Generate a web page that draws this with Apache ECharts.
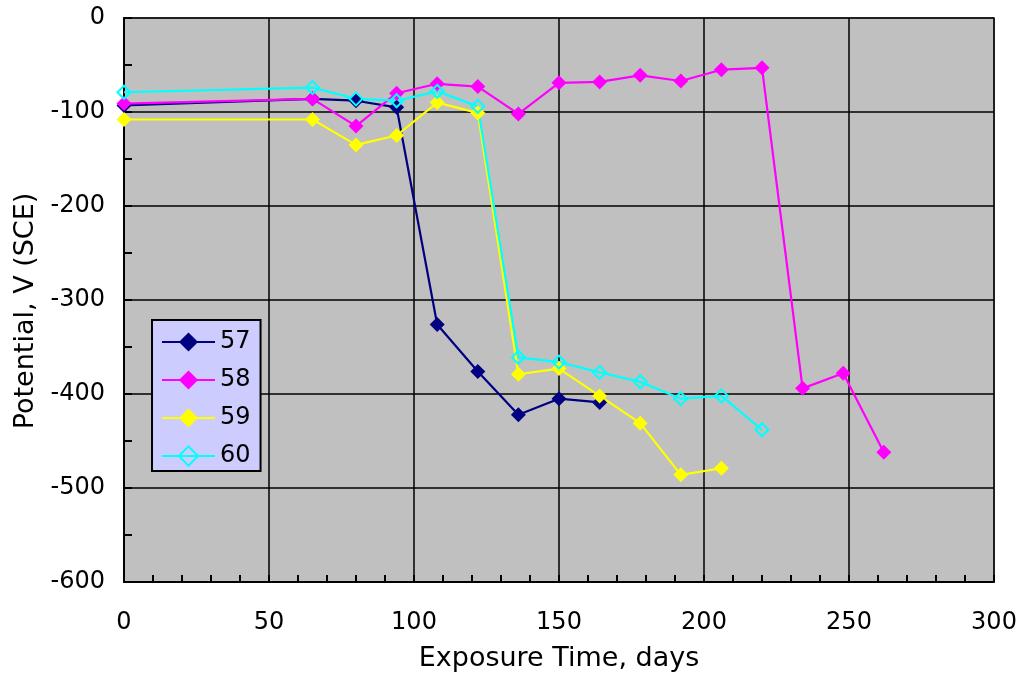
<!DOCTYPE html>
<html>
<head>
<meta charset="utf-8">
<script src="https://cdn.jsdelivr.net/npm/echarts@6/dist/echarts.min.js"></script>
<style>
  html, body { margin: 0; padding: 0; background: #fff; }
  #chart { width: 1023px; height: 677px; }
</style>
</head>
<body>
<div id="chart"></div>
<script>
// Exposure time (days) for each reading
const days57 = [0, 65, 80, 94, 108, 122, 136, 150, 164];
const days58 = [0, 65, 80, 94, 108, 122, 136, 150, 164, 178, 192, 206, 220, 234, 248, 262];
const days59 = [0, 65, 80, 94, 108, 122, 136, 150, 164, 178, 192, 206];
const days60 = [0, 65, 80, 94, 108, 122, 136, 150, 164, 178, 192, 206, 220];

// Potential readings, V (SCE)
const pot57 = [-93, -86, -88, -95, -326, -376, -422, -405, -409];
const pot58 = [-91, -86, -115, -80, -70, -73, -102, -69, -68, -61, -67, -55, -53, -394, -378, -462];
const pot59 = [-108, -108, -135, -125, -90, -101, -379, -373, -402, -431, -486, -479];
const pot60 = [-79, -74, -86, -88, -78, -94, -361, -366, -377, -387, -405, -402, -438];

const seriesNames = ['57', '58', '59', '60'];
const xTicks = [0, 50, 100, 150, 200, 250, 300];
const yTicks = [0, -100, -200, -300, -400, -500, -600];

const FONT = 'DejaVu Sans';

function pairs(xs, ys) {
  return xs.map((x, i) => [x, ys[i]]);
}

function lineSeries(name, xs, ys, color, hollow) {
  return {
    name: name,
    type: 'line',
    data: pairs(xs, ys),
    symbol: 'diamond',
    symbolSize: hollow ? 13 : 15,
    showSymbol: true,
    animation: false,
    lineStyle: { color: color, width: 2.2 },
    itemStyle: hollow
      ? { color: 'rgba(0,0,0,0)', borderColor: color, borderWidth: 2 }
      : { color: color, borderWidth: 0 },
    emphasis: { disabled: true }
  };
}

const chart = echarts.init(document.getElementById('chart'), null, { renderer: 'canvas' });

chart.setOption({
  animation: false,
  backgroundColor: '#ffffff',
  textStyle: { fontFamily: FONT },
  grid: {
    left: 124, right: 29, top: 18, bottom: 95,
    outerBoundsMode: 'none',
    containLabel: false,
    show: true,
    backgroundColor: '#C0C0C0',
    borderColor: '#808080',
    borderWidth: 2
  },
  legend: {
    data: seriesNames,
    orient: 'vertical',
    left: 152,
    top: 320,
    backgroundColor: '#CCCCFF',
    borderColor: '#000000',
    borderWidth: 2,
    padding: [10, 10, 3, 9],
    itemWidth: 53,
    itemHeight: 24,
    itemGap: 14,
    textStyle: { fontFamily: FONT, fontSize: 24, color: '#000', lineHeight: 24 }
  },
  xAxis: {
    type: 'value',
    min: 0,
    max: 300,
    interval: 50,
    name: 'Exposure Time, days',
    nameLocation: 'middle',
    nameGap: 63,
    nameTextStyle: { fontFamily: FONT, fontSize: 27, color: '#000' },
    axisLine: { show: true, onZero: false, lineStyle: { color: '#000', width: 2 } },
    axisTick: { show: true, inside: true, length: 7, lineStyle: { color: '#000', width: 2 } },
    minorTick: { show: true, splitNumber: 5, length: 7, lineStyle: { color: '#000', width: 2 } },
    axisLabel: {
      margin: 29, fontFamily: FONT, fontSize: 24, color: '#000',
      formatter: v => (xTicks.indexOf(v) >= 0 ? String(v) : '')
    },
    splitLine: { show: true, lineStyle: { color: '#000', width: 1.5 } }
  },
  yAxis: {
    type: 'value',
    min: -600,
    max: 0,
    interval: 100,
    name: 'Potential, V (SCE)',
    nameLocation: 'middle',
    nameGap: 79,
    nameTextStyle: { fontFamily: FONT, fontSize: 27, color: '#000', padding: [0, 22, 0, 0] },
    axisLine: { show: true, onZero: false, lineStyle: { color: '#000', width: 2 } },
    axisTick: { show: true, inside: true, length: 8, lineStyle: { color: '#000', width: 2 } },
    minorTick: { show: true, splitNumber: 2, length: 8, lineStyle: { color: '#000', width: 2 } },
    axisLabel: {
      margin: 19, fontFamily: FONT, fontSize: 24, color: '#000',
      formatter: v => (yTicks.indexOf(v) >= 0 ? String(v) : '')
    },
    splitLine: { show: true, lineStyle: { color: '#000', width: 1.5 } }
  },
  series: [
    lineSeries('57', days57, pot57, '#000080', false),
    lineSeries('58', days58, pot58, '#FF00FF', false),
    lineSeries('59', days59, pot59, '#FFFF00', false),
    lineSeries('60', days60, pot60, '#00FFFF', true)
  ]
});
</script>
</body>
</html>
